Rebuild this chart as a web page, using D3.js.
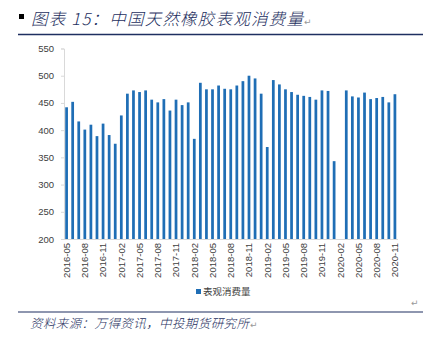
<!DOCTYPE html>
<html><head><meta charset="utf-8">
<script src="https://cdn.jsdelivr.net/npm/d3@7"></script>
<style>body{margin:0;background:#fff}svg{display:block}</style>
</head><body>
<svg id="c" width="431" height="342"></svg>
<script>
const months = [];
(function(){ for (let y=2016; y<=2020; y++) for (let m=1; m<=12; m++) { if ((y===2016 && m<5) || (y===2020 && m>11)) continue; months.push(y+"-"+String(m).padStart(2,"0")); } })();
const values = [442,452,416,401,410,389,412,391,375,427,467,473,470,473,
  456,451,457,436,456,446,451,384,487,475,475,482,476,475,482,490,500,495,467,369,492,484,475,
  470,465,463,461,456,473,472,343,null,473,462,460,469,457,459,461,451,466];
const yTicks = [200,250,300,350,400,450,500,550];
const seriesName = "表观消费量";
const titleText = "图表 15：中国天然橡胶表观消费量";
const sourceText = "资料来源：万得资讯，中投期货研究所";

const svg = d3.select("#c");
const navy = "#1e2f60";
const barColor = "#1f6eb5";

// header
svg.append("rect").attr("x",19).attr("y",14).attr("width",5).attr("height",5).attr("fill","#000");
svg.append("text").attr("x",31).attr("y",25).text(titleText)
  .attr("font-family","'Noto Sans CJK SC'").attr("font-size",16.5).attr("font-style","italic").attr("font-weight",300)
  .attr("fill",navy).attr("textLength",272).attr("lengthAdjust","spacing");
svg.append("text").attr("x",304).attr("y",25).text("↵").attr("font-size",9).attr("fill","#999").attr("font-family","DejaVu Sans");
svg.append("line").attr("x1",18).attr("x2",423).attr("y1",34.5).attr("y2",34.5).attr("stroke",navy).attr("stroke-width",1.5);

// plot
const x = d3.scaleBand().domain(months).range([64,397.5]).paddingInner(0.55).paddingOuter(0.2);
const y = d3.scaleLinear().domain([200,550]).range([239,48.5]);

const ya = d3.axisLeft(y).tickValues(yTicks).tickSize(3).tickPadding(7);
const gy = svg.append("g").attr("transform","translate(64,0)").call(ya);
gy.select(".domain").attr("stroke","#d9d9d9");
gy.selectAll(".tick line").attr("stroke","#d9d9d9");
gy.selectAll("text").attr("font-family","'Liberation Sans',Arial").attr("font-size",9.5).attr("fill","#404040");

svg.append("g").selectAll("rect").data(months.map((m,i)=>({m,v:values[i]})).filter(d=>d.v!=null))
  .join("rect").attr("x",d=>x(d.m)).attr("width",x.bandwidth())
  .attr("y",d=>y(d.v)).attr("height",d=>y(200)-y(d.v)).attr("fill",barColor);

const xa = d3.axisBottom(x).tickValues(months.filter((m,i)=>i%3===0)).tickSize(0).tickPadding(0);
const gx = svg.append("g").attr("transform","translate(0,239)").call(xa);
gx.select(".domain").attr("stroke","#d9d9d9");
gx.selectAll("text").attr("font-family","'Liberation Sans',Arial").attr("font-size",9.5).attr("fill","#404040")
  .attr("transform","rotate(-90)").attr("text-anchor","end").attr("dx","-4").attr("dy","0.35em").attr("y",0).attr("x",0);

// legend
svg.append("rect").attr("x",196).attr("y",289).attr("width",5).attr("height",5).attr("fill",barColor);
svg.append("text").attr("x",203).attr("y",295).text(seriesName).attr("font-family","'Noto Sans CJK SC'").attr("font-size",9.5).attr("fill","#404040");

// footer
svg.append("text").attr("x",411).attr("y",306).text("↵").attr("font-size",9).attr("fill","#999").attr("font-family","DejaVu Sans");
svg.append("line").attr("x1",18).attr("x2",423).attr("y1",312).attr("y2",312).attr("stroke",navy).attr("stroke-width",1.2);
svg.append("text").attr("x",30).attr("y",328).text(sourceText)
  .attr("font-family","'Noto Sans CJK SC'").attr("font-size",12.5).attr("font-style","italic").attr("font-weight",300).attr("fill",navy)
  .attr("textLength",219).attr("lengthAdjust","spacing");
svg.append("text").attr("x",250).attr("y",328).text("↵").attr("font-size",9).attr("fill","#999").attr("font-family","DejaVu Sans");
</script>
</body></html>
